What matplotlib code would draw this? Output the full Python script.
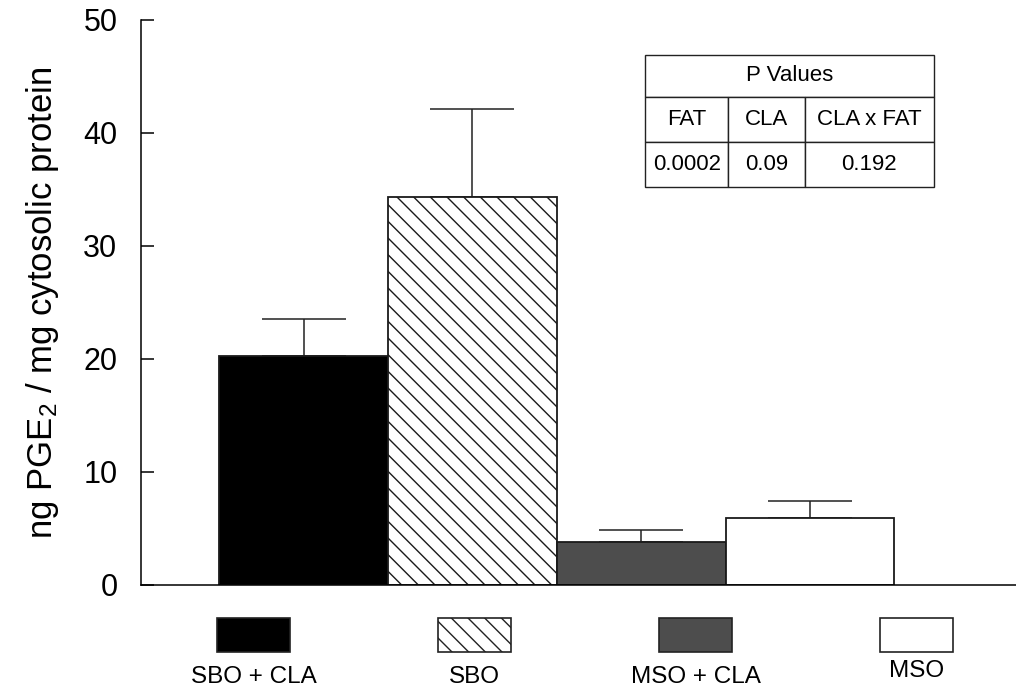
import numpy as np
import matplotlib
matplotlib.use('Agg')
import matplotlib.pyplot as plt
from matplotlib.patches import Rectangle

plt.rcParams['font.family'] = ['Liberation Sans', 'DejaVu Sans']
plt.rcParams['mathtext.fontset'] = 'custom'
plt.rcParams['mathtext.rm'] = 'Liberation Sans'
plt.rcParams['mathtext.it'] = 'Liberation Sans'
plt.rcParams['hatch.linewidth'] = 1.0

# Data
groups = ['SBO + CLA', 'SBO', 'MSO + CLA', 'MSO']
means = [20.3, 34.3, 3.8, 5.95]
upper = [23.5, 42.1, 4.85, 7.4]
errors = [u - m for u, m in zip(upper, means)]

p_header = 'P Values'
p_cols = ['FAT', 'CLA', 'CLA x FAT']
p_vals = ['0.0002', '0.09', '0.192']

# Bar styles
faces = ['black', 'white', '#4d4d4d', 'white']
hatches = [None, '\\\\', None, None]

fig = plt.figure(figsize=(10.16, 6.89), dpi=100)
ax = fig.add_axes([0.1388, 0.151, 0.8612, 0.820])

x = np.arange(len(groups))
for xi, m, f, h in zip(x, means, faces, hatches):
    ax.bar(xi, m, width=1.0, color=f, edgecolor='#1a1a1a', hatch=h, linewidth=1.3, zorder=2)

ax.errorbar(x, means, yerr=[[0] * len(x), errors], fmt='none', ecolor='#222222',
            elinewidth=1.1, capsize=30, capthick=1.1, zorder=1)

ax.set_xlim(-0.963, 4.22)
ax.set_ylim(0, 50)
ax.set_yticks(np.arange(0, 51, 10))
ax.set_xticks([])
ax.spines['top'].set_visible(False)
ax.spines['right'].set_visible(False)
ax.spines['left'].set_linewidth(1.1)
ax.spines['bottom'].set_linewidth(1.1)
ax.tick_params(axis='y', direction='in', length=9, width=1.1, labelsize=22, pad=17)
ax.set_ylabel(r'ng PGE$_2$ / mg cytosolic protein', fontsize=25, labelpad=16)

# P value table in upper right
tb_left, tb_width = 0.576, 0.330
col_w = [82 / 284, 75 / 284, 127 / 284]
head = ax.table(cellText=[[p_header]], cellLoc='center',
                bbox=[tb_left, 0.864, tb_width, 0.074])
body = ax.table(cellText=[p_cols, p_vals], cellLoc='center', colWidths=col_w,
                bbox=[tb_left, 0.705, tb_width, 0.159])
for t in (head, body):
    t.auto_set_font_size(False)
    for cell in t.get_celld().values():
        cell.set_linewidth(1.0)
        cell.set_edgecolor('#222222')
        cell.get_text().set_fontsize(16)

# Legend below the axes
lax = fig.add_axes([143 / 1016, 0, 873 / 1016, 89 / 689])
lax.set_xlim(-0.5, 3.45)
lax.set_ylim(0, 1)
lax.axis('off')
for i, (g, f, h) in enumerate(zip(groups, faces, hatches)):
    lax.add_patch(Rectangle((i - 0.165, 0.416), 0.33, 0.382, facecolor=f,
                            edgecolor='#222222', hatch=h, linewidth=1.2))
    ly = 0.2 if i == 3 else 0.14
    lax.text(i, ly, g, ha='center', va='center', fontsize=17.5)

plt.savefig('out.png', dpi=100)
